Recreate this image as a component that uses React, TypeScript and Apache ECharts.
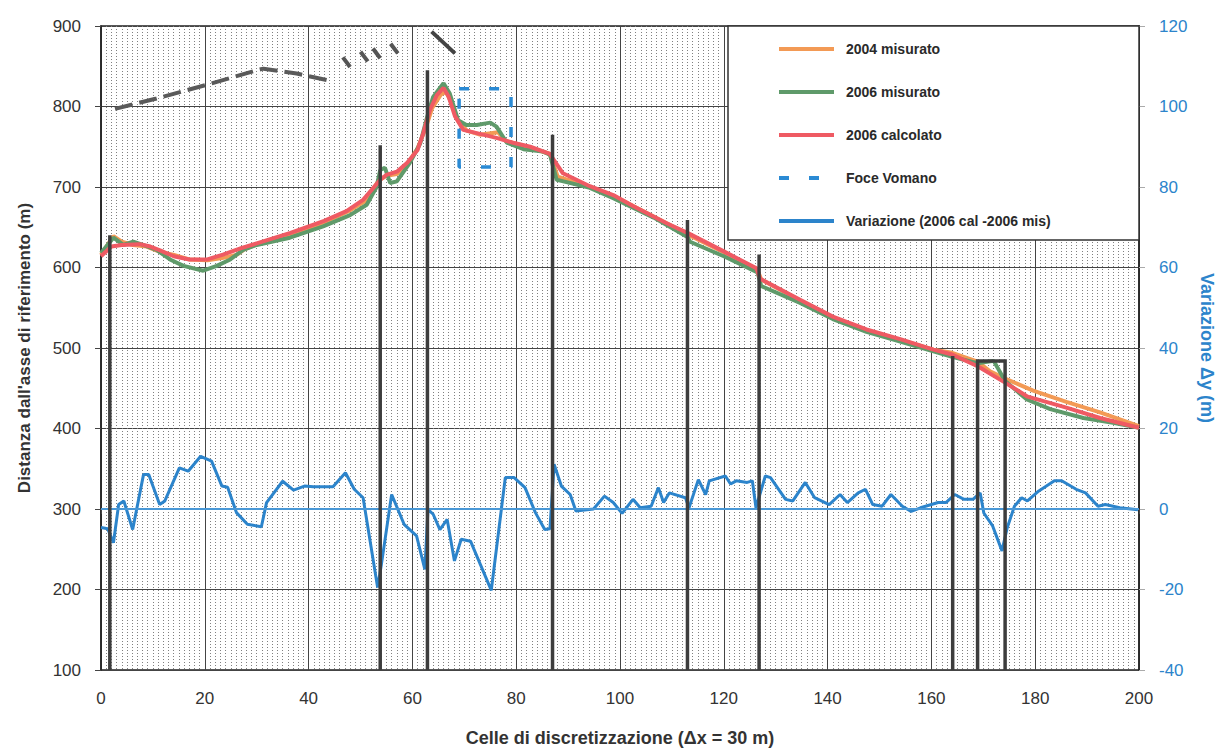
import React, { useEffect, useRef } from "react";
import * as echarts from "echarts";

// Shoreline position (m) vs cell index
const misurato2004: [number, number][] = [
  [0, 616], [2.4, 639], [4, 632], [6.2, 628], [8.8, 626], [11.5, 619], [13.9, 616], [17, 610], [20.5, 609],
  [23.6, 612], [26.2, 616], [27.5, 622], [30, 629], [36.4, 640], [43, 656], [48, 671], [51, 683], [53.5, 708],
  [55, 714], [57, 716], [59, 728], [61, 748], [62.5, 772], [63.8, 798], [65.5, 815], [66.5, 818], [67.5, 805],
  [68.8, 782], [70.5, 770], [73, 765], [76.5, 768], [78, 757], [82.7, 749], [86.5, 741], [88, 713], [94.2, 700],
  [98.7, 689], [109, 655], [113, 641], [120, 619], [126.5, 597], [127.2, 585], [134.7, 559], [141, 538],
  [147.5, 522], [154, 510], [160.4, 498], [164, 494], [168.9, 483], [171.3, 471], [174.2, 462], [179.6, 447],
  [186, 433], [192.5, 420], [200, 403]
];

const misurato2006: [number, number][] = [
  [0, 618], [2.4, 637], [4.3, 628], [6.2, 632], [8.1, 628], [10.7, 622], [13.3, 610], [15.9, 602], [19.7, 596],
  [22.3, 602], [24.9, 610], [27.4, 622], [30, 628], [36.4, 637], [42.8, 651], [48, 665], [51.2, 678], [53.1, 700],
  [53.8, 721], [54.7, 724], [55.7, 705], [57, 707], [59.5, 730], [61.5, 754], [62.8, 786], [64, 812], [66, 829],
  [67.2, 816], [68.8, 783], [70.4, 777], [72.4, 777], [75, 780], [76.2, 775], [78.2, 755], [81.4, 747], [85.2, 744],
  [86.5, 740], [87.8, 709], [89.1, 707], [94.2, 699], [98.7, 686], [106.5, 662], [113, 638], [113.5, 632],
  [120, 614], [126.5, 594], [127.2, 577], [134.7, 556], [141, 536], [147.5, 520], [154, 508], [160.4, 496],
  [164, 489], [168.9, 481], [172, 484], [174.2, 459], [178.4, 436], [182.9, 424], [189.3, 413], [195, 407], [200, 401]
];

const calcolato2006: [number, number][] = [
  [0, 614], [2, 626], [4, 628], [7.5, 629], [9.5, 626], [11.5, 621], [14, 614], [17, 610], [20.5, 610], [23.5, 616],
  [27, 624], [30, 630], [36.5, 643], [43, 658], [47.3, 670], [50.5, 684], [53.8, 709], [55, 715], [57, 719], [59, 730],
  [61, 746], [62.1, 767], [63.4, 796], [64.7, 814], [66, 823], [67, 812], [68.2, 788], [69.8, 771], [73, 766],
  [76.2, 761], [79.4, 755], [82.7, 750], [86.5, 741], [89, 717], [94.2, 701], [98.7, 690], [102.6, 676], [109, 655],
  [113, 643], [120, 620], [126.3, 599], [127, 586], [134.7, 560], [141, 539], [147.5, 523], [154, 511], [160.4, 498],
  [164, 492], [169, 477], [174.2, 457], [178.4, 440], [186, 426], [192.5, 413], [200, 401]
];

// Variation (2006 cal - 2006 mis), right axis
const variazione: [number, number][] = [
  [0, -4.6], [1.3, -4.9], [2.4, -8.4], [3.4, 1.1], [4.4, 2], [6.1, -5.1], [8.2, 8.6], [9.2, 8.6], [11.3, 1.1],
  [12.3, 2], [15.1, 10.2], [16.8, 9.4], [19.2, 13.1], [21.3, 11.9], [23.3, 5.7], [24.4, 5.4], [26.1, -0.9],
  [28.2, -3.8], [30.9, -4.4], [31.9, 1.6], [35, 6.9], [37.1, 4.7], [39.2, 5.7], [40.9, 5.5], [44.7, 5.5], [47.1, 9],
  [48.8, 4.9], [50.5, 2.8], [53.3, -19.5], [54, -14], [56, 3.6], [58.4, -3.8], [59.8, -5.5], [60.8, -6.7],
  [62.4, -15], [63, -0.1], [64, -1.3], [65.3, -5.1], [66.7, -2.6], [68.1, -12.9], [69.4, -7.5], [71.2, -8],
  [75.2, -20.2], [77.9, 7.8], [79.6, 7.8], [81.7, 5.3], [83.7, -0.9], [85.5, -5.1], [86.5, -4.9], [87.3, 11.1],
  [88.7, 5.7], [90.4, 3.6], [91.5, -0.5], [94.9, 0], [97, 3.2], [98.7, 1.6], [100.4, -1.1], [102.5, 2.4],
  [103.9, 0.3], [106, 0.7], [107.4, 5.3], [108.4, 1.6], [109.5, 4], [112.6, 2.8], [113.3, 0.3], [115.1, 7.3],
  [116.5, 3.6], [117.2, 7], [120.3, 8.2], [121.3, 6.2], [122.4, 7], [124.5, 6.6], [125.5, 7], [126.2, 0.3],
  [128, 8.2], [129, 7.8], [131.9, 2.4], [133.3, 2], [135.7, 6.6], [137.5, 2.8], [140.3, 1.1], [142.4, 3.6],
  [143.8, 1.6], [145.9, 4], [147.3, 4.9], [148.7, 1.1], [150.5, 0.7], [152.2, 3.6], [154.4, 0.7], [156.1, -0.6],
  [157.9, 0.3], [161.3, 1.6], [162.8, 1.6], [164.5, 3.6], [166.3, 2.4], [168, 2.4], [169.4, 4], [170.1, -1],
  [171.8, -4.2], [173.6, -10.4], [174.6, -4.7], [176, 0.7], [177.4, 2.8], [178.5, 2], [180.7, 4.5], [183.7, 7],
  [185.1, 7], [187.9, 4.9], [189.7, 4], [192.1, 0.7], [193.5, 1.1], [196.3, 0.3], [199.8, -0.2]
];

const zeroLine: [number, number][] = [[0, 0], [200, 0]];

// Foce Vomano (river mouth) box
const foceVomano: [number, number][] = [[69, 822], [79, 822], [79, 725], [69, 725], [69, 822]];

// Groynes (pennelli)
const groyneX = [1.7, 53.8, 62.9, 87, 113, 126.8, 164.1];
const groyneTop = [640, 752, 845, 765, 659, 616, 490];
const doubleGroyne: [number, number][] = [[168.9, 100], [168.9, 484], [174.2, 484], [174.2, 100]];

// Structures at the top
const coastDashed: [number, number][] = [
  [2.7, 797], [10.7, 810], [20.4, 827], [30, 845], [31.3, 847], [37.7, 841], [44.1, 832]
];
const hatchCenters: [number, number][] = [[47.3, 855], [50.7, 862], [53.1, 866], [56.5, 872]];
const jetty: [number, number][] = [[63.7, 893], [68.2, 866]];

const FONT = "Liberation Sans, Arial, sans-serif";
const BLUE = "#2c84cb";

export default function App() {
  const ref = useRef<HTMLDivElement>(null);
  useEffect(() => {
    const chart = echarts.init(ref.current!, null, { renderer: "svg" });
    const option: any = {
      animation: false,
      backgroundColor: "#ffffff",
      textStyle: { fontFamily: FONT },
      grid: {
        left: 101, right: 87, top: 26, bottom: 81,
        show: true, borderColor: "#222", borderWidth: 1.5, backgroundColor: "transparent"
      },
      graphic: [
        {
          type: "rect", z: 3,
          shape: { x: 728, y: 26, width: 411, height: 214 },
          style: { fill: "#ffffff", stroke: "#333", lineWidth: 1.5 }
        }
      ],
      legend: {
        orient: "vertical", left: 772, top: 37, z: 10,
        itemWidth: 55, itemHeight: 14, itemGap: 29, selectedMode: false,
        itemStyle: { opacity: 0 },
        lineStyle: { width: 4 },
        data: ["2004 misurato", "2006 misurato", "2006 calcolato", "Foce Vomano", "Variazione (2006 cal -2006 mis)"],
        textStyle: { fontSize: 14, fontWeight: "bold", color: "#2a2a2a", fontFamily: FONT, lineHeight: 14, padding: [0, 0, 0, 7] }
      },
      xAxis: {
        type: "value", min: 0, max: 200, interval: 20,
        name: "Celle di discretizzazione (\u0394x = 30 m)", nameLocation: "middle", nameGap: 59,
        nameTextStyle: { fontSize: 18, fontWeight: "bold", color: "#333", fontFamily: FONT },
        axisLine: { show: true, lineStyle: { color: "#222", width: 1.5 } },
        axisTick: { show: true, length: 5, lineStyle: { color: "#444" } },
        axisLabel: { fontSize: 17, color: "#333", margin: 20, fontFamily: FONT },
        splitLine: { show: true, lineStyle: { color: "#444", width: 1 } },
        minorTick: { show: false, splitNumber: 20 },
        minorSplitLine: { show: true, lineStyle: { color: "#808080", width: 1, type: [1, 2] } }
      },
      yAxis: [
        {
          type: "value", min: 100, max: 900, interval: 100,
          name: "Distanza dall'asse di riferimento (m)", nameLocation: "middle", nameGap: 68,
          nameTextStyle: { fontSize: 17, fontWeight: "bold", color: "#333", fontFamily: FONT },
          axisLine: { show: true, lineStyle: { color: "#222", width: 1.5 } },
          axisTick: { show: true, length: 6, lineStyle: { color: "#444" } },
          axisLabel: { fontSize: 17, color: "#333", margin: 20, fontFamily: FONT },
          splitLine: { show: true, lineStyle: { color: "#444", width: 1 } }
        },
        {
          type: "value", min: -40, max: 120, interval: 20, position: "right",
          name: "Variazione \u0394y (m)", nameLocation: "middle", nameGap: 55, nameRotate: -90,
          nameTextStyle: { fontSize: 18, fontWeight: "bold", color: BLUE, fontFamily: FONT },
          axisLine: { show: true, lineStyle: { color: "#222", width: 1.5 } },
          axisTick: { show: true, length: 6, lineStyle: { color: "#aaa" } },
          axisLabel: { fontSize: 17, color: BLUE, margin: 20, fontFamily: FONT },
          splitLine: { show: false }
        }
      ],
      series: [
        {
          name: "2004 misurato", type: "line", data: misurato2004, symbol: "none", z: 2,
          lineStyle: { color: "#f39a55", width: 4 }, itemStyle: { color: "#f39a55" }
        },
        {
          name: "2006 misurato", type: "line", data: misurato2006, symbol: "none", z: 2,
          lineStyle: { color: "#5f9a6a", width: 4 }, itemStyle: { color: "#5f9a6a" }
        },
        {
          name: "2006 calcolato", type: "line", data: calcolato2006, symbol: "none", z: 2,
          lineStyle: { color: "#ef5a63", width: 4 }, itemStyle: { color: "#ef5a63" }
        },
        {
          name: "Foce Vomano", type: "line", data: foceVomano, symbol: "none", z: 2,
          lineStyle: { color: "#2a8ad4", width: 3.5, type: [10, 20] }, itemStyle: { color: "#2a8ad4" }
        },
        {
          name: "Variazione (2006 cal -2006 mis)", type: "line", yAxisIndex: 1, data: variazione, symbol: "none", z: 2,
          lineStyle: { color: BLUE, width: 3 }, itemStyle: { color: BLUE }
        },
        {
          name: "zero", type: "line", yAxisIndex: 1, data: zeroLine, symbol: "none", z: 2,
          lineStyle: { color: "#4a98d6", width: 2 }
        },
        {
          name: "pennelli", type: "lines", coordinateSystem: "cartesian2d", polyline: true, z: 4,
          lineStyle: { color: "#3d3d3d", width: 3.5, opacity: 1 },
          data: [
            ...groyneX.map((x, i) => ({ coords: [[x, 100], [x, groyneTop[i]]] })),
            { coords: doubleGroyne }
          ]
        },
        {
          name: "costa", type: "line", data: coastDashed, symbol: "none", z: 2,
          lineStyle: { color: "#5a5a5a", width: 4, type: [18, 7] }
        },
        {
          name: "scogliere", type: "lines", coordinateSystem: "cartesian2d", z: 2,
          lineStyle: { color: "#555", width: 4, opacity: 1 },
          data: hatchCenters.map(([x, v]) => ({ coords: [[x - 0.7, v + 6], [x + 0.7, v - 6]] }))
        },
        {
          name: "molo", type: "lines", coordinateSystem: "cartesian2d", z: 2,
          lineStyle: { color: "#444", width: 4, opacity: 1 },
          data: [{ coords: jetty }]
        }
      ]
    };
    chart.setOption(option);
    return () => chart.dispose();
  }, []);
  return (
    <div
      ref={ref}
      style={{ position: "absolute", left: 0, top: 0, width: 1226, height: 752, background: "#fff" }}
    />
  );
}
